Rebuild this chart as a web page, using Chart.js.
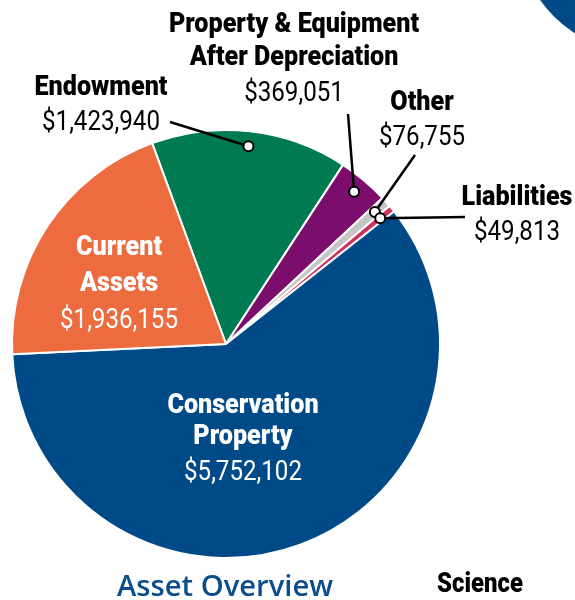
<!DOCTYPE html>
<html>
<head>
<meta charset="utf-8">
<script src="https://cdn.jsdelivr.net/npm/chart.js@4/dist/chart.umd.min.js"></script>
<style>
  html, body { margin: 0; padding: 0; background: #ffffff; }
  #wrap { position: relative; width: 575px; height: 600px; overflow: hidden; }
  canvas { display: block; }
</style>
</head>
<body>
<div id="wrap"><canvas id="c" width="575" height="600"></canvas></div>
<script>
// ---- data ----
const categories = ["Endowment", "Property & Equipment After Depreciation", "Other", "Liabilities", "Conservation Property", "Current Assets"];
const values = [1423940, 369051, 76755, 49813, 5752102, 1936155];
const titleLines = [["Endowment"], ["Property & Equipment", "After Depreciation"], ["Other"], ["Liabilities"], ["Conservation", "Property"], ["Current", "Assets"]];
const chartTitle = "Asset Overview";
const sideText = "Science";

// ---- styles / layout ----
const colors = ["#007a53", "#7b0e6c", "#c6c6c6", "#d1305e", "#004b87", "#ec6b3f"];
const BOLD = '900 28px Roboto, "Noto Sans", sans-serif';
const REG = '400 28px Roboto, "Noto Sans", sans-serif';
const labelLayout = [
  { x: 101, ys: [95, 130], color: "#000", lead: [170, 122] },
  { x: 294, ys: [32, 65, 101], color: "#000", lead: [348, 114] },
  { x: 422, ys: [110, 145], color: "#000", lead: [415, 155] },
  { x: 517, ys: [205, 240], color: "#000", lead: [465, 217] },
  { x: 243, ys: [413, 444, 480], color: "#fff", lead: null },
  { x: 119, ys: [255, 291, 328], color: "#fff", lead: null }
];

function fmt(v) { return "$" + v.toLocaleString("en-US"); }

let sBold = 1, sReg = 1;
function calibrate(ctx) {
  ctx.font = BOLD; sBold = 133 / ctx.measureText("Endowment").width;
  ctx.font = REG; sReg = 118 / ctx.measureText("$1,423,940").width;
}
function txt(ctx, s, x, y, font, color, sx) {
  ctx.save();
  ctx.font = font; ctx.fillStyle = color;
  ctx.textAlign = "center"; ctx.textBaseline = "alphabetic";
  ctx.translate(x, y); ctx.scale(sx, 1);
  ctx.fillText(s, 0, 0);
  ctx.restore();
}

const decor = {
  id: "decor",
  beforeDraw(chart) {
    const ctx = chart.ctx;
    ctx.save();
    ctx.fillStyle = "#004b87";
    ctx.beginPath(); ctx.arc(640, -70, 122, 0, Math.PI * 2); ctx.fill();
    ctx.restore();
  },
  afterDraw(chart) {
    const ctx = chart.ctx;
    calibrate(ctx);
    const arcs = chart.getDatasetMeta(0).data;
    arcs.forEach((a, i) => {
      const L = labelLayout[i];
      if (!L.lead) return;
      const mid = (a.startAngle + a.endAngle) / 2;
      const r = a.outerRadius * 0.93;
      const dx = a.x + Math.cos(mid) * r, dy = a.y + Math.sin(mid) * r;
      ctx.save();
      ctx.strokeStyle = "#000"; ctx.lineWidth = 2.5;
      ctx.beginPath(); ctx.moveTo(L.lead[0], L.lead[1]); ctx.lineTo(dx, dy); ctx.stroke();
      ctx.fillStyle = "#fff"; ctx.lineWidth = 2;
      ctx.beginPath(); ctx.arc(dx, dy, 5, 0, Math.PI * 2); ctx.fill(); ctx.stroke();
      ctx.restore();
    });
    categories.forEach((c, i) => {
      const L = labelLayout[i];
      const lines = titleLines[i];
      lines.forEach((ln, k) => txt(ctx, ln, L.x, L.ys[k], BOLD, L.color, sBold));
      txt(ctx, fmt(values[i]), L.x, L.ys[lines.length], REG, L.color, sReg);
    });
    const TF = '600 29px "Open Sans", sans-serif';
    ctx.save(); ctx.font = TF; const tw = ctx.measureText(chartTitle).width; ctx.restore();
    txt(ctx, chartTitle, 225, 596, TF, "#0b4c8c", 216 / tw);
    txt(ctx, sideText, 480, 592, BOLD, "#000", sBold * 0.95);
  }
};

new Chart(document.getElementById("c"), {
  type: "pie",
  data: {
    labels: categories,
    datasets: [{
      data: values,
      backgroundColor: colors,
      borderColor: "#ffffff",
      borderWidth: 2
    }]
  },
  options: {
    responsive: false,
    animation: false,
    rotation: -20.2,
    layout: { padding: { left: 11, top: 129, right: 134, bottom: 41 } },
    plugins: { legend: { display: false }, tooltip: { enabled: false }, title: { display: false } }
  },
  plugins: [decor]
});
</script>
</body>
</html>
